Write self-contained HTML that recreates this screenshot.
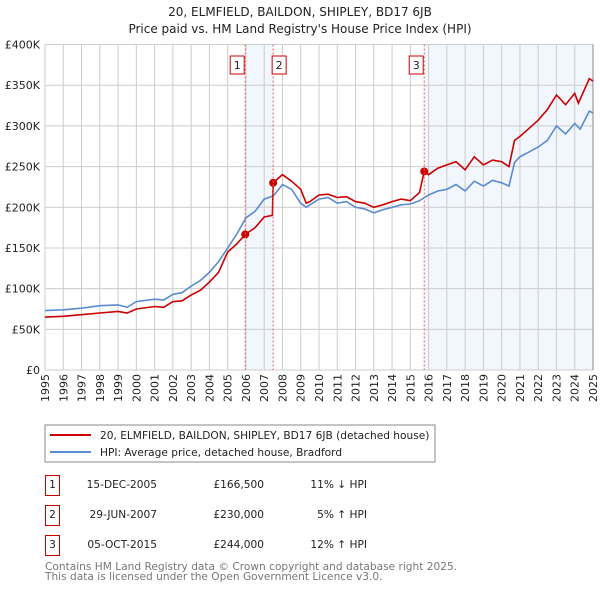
<!DOCTYPE html>
<html><head><meta charset="utf-8"><style>
body{margin:0;background:#fff;}
svg{display:block;font-family:"DejaVu Sans","Liberation Sans",sans-serif;}
</style></head><body>
<svg id="chart" width="600" height="590" viewBox="0 0 600 590">
<text x="300" y="16" text-anchor="middle" font-size="12" fill="#222">20, ELMFIELD, BAILDON, SHIPLEY, BD17 6JB</text>
<text x="300" y="33" text-anchor="middle" font-size="12" fill="#222">Price paid vs. HM Land Registry's House Price Index (HPI)</text>
<g id="shade"></g><g id="grid"></g><g id="axes"></g><g id="lines"></g><g id="marks"></g>
<rect x="45" y="425" width="390" height="37" fill="#fff" stroke="#888"/>
<line x1="50" y1="435" x2="91" y2="435" stroke="#cc0000" stroke-width="2"/>
<text x="100" y="439" font-size="10.6" fill="#222">20, ELMFIELD, BAILDON, SHIPLEY, BD17 6JB (detached house)</text>
<line x1="50" y1="452" x2="91" y2="452" stroke="#5b8bd0" stroke-width="2"/>
<text x="100" y="456" font-size="10.6" fill="#222">HPI: Average price, detached house, Bradford</text>
<g font-size="10.6" fill="#222">
<rect x="45.5" y="475.5" width="14" height="20" fill="#fff" stroke="#cc0000"/>
<text x="52.5" y="488" text-anchor="middle">1</text><text x="157" y="488" text-anchor="end">15-DEC-2005</text>
<text x="264" y="488" text-anchor="end">£166,500</text><text x="367" y="488" text-anchor="end">11% ↓ HPI</text>
<rect x="45.5" y="505.5" width="14" height="20" fill="#fff" stroke="#cc0000"/>
<text x="52.5" y="518" text-anchor="middle">2</text><text x="157" y="518" text-anchor="end">29-JUN-2007</text>
<text x="264" y="518" text-anchor="end">£230,000</text><text x="367" y="518" text-anchor="end">5% ↑ HPI</text>
<rect x="45.5" y="535.5" width="14" height="20" fill="#fff" stroke="#cc0000"/>
<text x="52.5" y="548" text-anchor="middle">3</text><text x="157" y="548" text-anchor="end">05-OCT-2015</text>
<text x="264" y="548" text-anchor="end">£244,000</text><text x="367" y="548" text-anchor="end">12% ↑ HPI</text>
</g>
<text x="45" y="570" font-size="10.6" fill="#777">Contains HM Land Registry data © Crown copyright and database right 2025.</text>
<text x="45" y="580" font-size="10.6" fill="#777">This data is licensed under the Open Government Licence v3.0.</text>
</svg>
<script>
const hpiYears=[1995,1996,1997,1998,1999,1999.5,2000,2001,2001.5,2002,2002.5,2003,2003.5,2004,2004.5,2005,2005.5,2006,2006.5,2007,2007.5,2008,2008.5,2009,2009.3,2009.5,2010,2010.5,2011,2011.5,2012,2012.5,2013,2013.5,2014,2014.5,2015,2015.5,2016,2016.5,2017,2017.5,2018,2018.5,2019,2019.5,2020,2020.4,2020.7,2021,2021.5,2022,2022.5,2023,2023.5,2024,2024.3,2024.8,2025];
const hpiValues=[73,74,76,79,80,77,84,87,86,93,95,103,110,120,133,150,167,187,195,210,214,228,222,205,200,203,210,212,205,207,200,198,193,197,200,203,204,208,215,220,222,228,220,232,226,233,230,226,255,262,268,274,282,300,290,303,296,318,316];
const propYears=[1995,1996,1997,1998,1999,1999.5,2000,2001,2001.5,2002,2002.5,2003,2003.5,2004,2004.5,2005,2005.5,2005.96,2006.5,2007,2007.45,2007.49,2008,2008.5,2009,2009.3,2009.5,2010,2010.5,2011,2011.5,2012,2012.5,2013,2013.5,2014,2014.5,2015,2015.5,2015.76,2016,2016.5,2017,2017.5,2018,2018.5,2019,2019.5,2020,2020.4,2020.7,2021,2021.5,2022,2022.5,2023,2023.5,2024,2024.2,2024.8,2025];
const propValues=[65,66,68,70,72,70,75,78,77,84,85,92,98,108,120,145,155,166.5,175,188,190,230,240,232,222,205,207,215,216,212,213,207,205,200,203,207,210,208,218,244,240,248,252,256,246,262,252,258,256,250,282,287,297,307,320,338,326,340,328,358,355];
const saleYears=[2005.96,2007.49,2015.76];
const saleValues=[166.5,230,244];
const saleLabels=["1","2","3"];
const yTicks=[0,50,100,150,200,250,300,350,400];
const yTickLabels=["£0","£50K","£100K","£150K","£200K","£250K","£300K","£350K","£400K"];
const xTicks=[1995,1996,1997,1998,1999,2000,2001,2002,2003,2004,2005,2006,2007,2008,2009,2010,2011,2012,2013,2014,2015,2016,2017,2018,2019,2020,2021,2022,2023,2024,2025];
const X0=45,X1=593,Y0=370,Y1=44.5;
const xs=v=>X0+(v-1995)/30*(X1-X0);
const ys=v=>Y0-v/400*(Y0-Y1);
const NS="http://www.w3.org/2000/svg";
function mk(p,t,a){const e=document.createElementNS(NS,t);for(const k in a)e.setAttribute(k,a[k]);document.getElementById(p).appendChild(e);return e;}
let s=mk('shade','rect',{x:xs(saleYears[0]),y:Y1,width:xs(saleYears[1])-xs(saleYears[0]),height:Y0-Y1,fill:'#f2f6fd'});


s=mk('shade','rect',{x:xs(saleYears[2]),y:Y1,width:X1-xs(saleYears[2]),height:Y0-Y1,fill:'#f2f6fd'});


yTicks.forEach((t,i)=>{
 const l=mk('grid','line',{x1:X0,x2:X1,y1:ys(t),y2:ys(t),stroke:'#ccc','stroke-width':1});
 
 
 const tx=mk('axes','text',{x:X0-5,y:ys(t)+4,'text-anchor':'end','font-size':11,fill:'#222'});
 tx.textContent=yTickLabels[i];
 
 
});
xTicks.forEach(t=>{
 const l=mk('grid','line',{x1:xs(t),x2:xs(t),y1:Y1,y2:Y0,stroke:'#ccc','stroke-width':1});
 
 
 const tx=mk('axes','text',{x:0,y:0,'text-anchor':'end','font-size':11,fill:'#222',transform:`translate(${xs(t)+4},${Y0+4}) rotate(-90)`});
 tx.textContent=t;
 
 
});
let ax=mk('axes','line',{x1:X1,x2:X1,y1:Y1,y2:Y0,stroke:'#888'});


saleYears.forEach((y,i)=>{
 const l=mk('marks','line',{x1:xs(y),x2:xs(y),y1:Y1,y2:Y0,stroke:'#e06060','stroke-dasharray':'2,2','stroke-width':1});
 
 
 const r=mk('marks','rect',{x:xs(y)-(i===1?1:15),y:56,width:14,height:18,fill:'#fff',stroke:'#cc0000'});
 
 
 const tx=mk('marks','text',{x:xs(y)-(i===1?1:15)+7,y:69,'text-anchor':'middle','font-size':11,fill:'#222'});
 tx.textContent=saleLabels[i];
 
 
});
function path(xa,va){return xa.map((x,i)=>(i?'L':'M')+xs(x).toFixed(1)+','+ys(va[i]).toFixed(1)).join('');}
let p=mk('lines','path',{d:path(hpiYears,hpiValues),fill:'none',stroke:'#5b8bd0','stroke-width':1.6});


p=mk('lines','path',{d:path(propYears,propValues),fill:'none',stroke:'#cc0000','stroke-width':1.6});


saleYears.forEach((y,i)=>{
 const c=mk('lines','circle',{cx:xs(y),cy:ys(saleValues[i]),r:4,fill:'#cc0000'});
 
 
});
</script>
</body></html>
